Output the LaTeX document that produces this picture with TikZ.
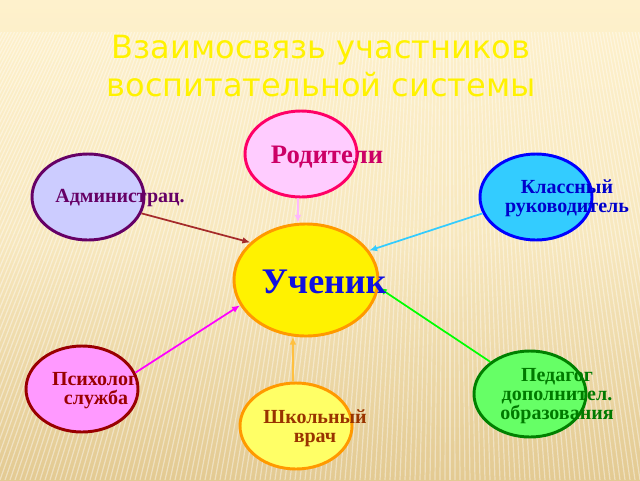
\documentclass[tikz,border=0pt]{standalone}
\usepackage{fontspec}
\newfontfamily\titlefont{DejaVu Sans}
\newfontfamily\nodefont{Liberation Serif}
\usetikzlibrary{shapes.geometric,arrows.meta}
\definecolor{bgtop}{HTML}{FEF1CC}
\definecolor{bgbot}{HTML}{E3CA92}
\definecolor{rodfill}{HTML}{FFCCFF}
\definecolor{rodline}{HTML}{FF0066}
\definecolor{rodtext}{HTML}{CC0066}
\definecolor{admfill}{HTML}{CCCCFF}
\definecolor{admline}{HTML}{660066}
\definecolor{klfill}{HTML}{33CCFF}
\definecolor{klline}{HTML}{0000FF}
\definecolor{kltext}{HTML}{0000CC}
\definecolor{uchline}{HTML}{FF9900}
\definecolor{uchtext}{HTML}{1010E0}
\definecolor{psyfill}{HTML}{FF99FF}
\definecolor{psyline}{HTML}{990000}
\definecolor{shkfill}{HTML}{FFFF66}
\definecolor{shktext}{HTML}{993300}
\definecolor{pedfill}{HTML}{66FF66}
\definecolor{pedline}{HTML}{008000}
\definecolor{pedtext}{HTML}{007A00}
\definecolor{arrrod}{HTML}{FFB8FF}
\definecolor{arradm}{HTML}{A52A2A}
\definecolor{arrshk}{HTML}{FFC040}
\definecolor{arrmag}{HTML}{FF00FF}
\tikzset{
  oval/.style={ellipse, draw, line width=2.2pt, minimum width=84pt, minimum height=64.5pt, inner sep=0pt},
  lbl/.style={font=\nodefont\bfseries\fontsize{15}{14.3}\selectfont, align=center, inner sep=0pt},
  conn/.style={line width=1.3pt, -{Latex[length=6pt,width=5pt]}},
}
\begin{document}
\begin{tikzpicture}[x=0.75pt,y=-0.75pt]
\useasboundingbox (0,0) rectangle (640,480);
\shade[top color=bgtop, bottom color=bgbot, middle color=bgtop!75!bgbot] (0,0) rectangle (640,480);
\begin{scope}
\clip (0,32) rectangle (640,480);
\foreach \i in {-700,-695,...,1300} {
  \draw[white, opacity=0.4, line width=0.9pt] (\i,480) -- (450,-800);
}
\end{scope}
% title
\node[font=\titlefont\fontsize{24}{28.5}\selectfont, text=yellow, align=center] (title) at (321,66) {Взаимосвязь участников\\воспитательной системы};
% ellipses
\node[oval, fill=rodfill, draw=rodline] (rod) at (301,154) {};
\node[oval, fill=admfill, draw=admline] (adm) at (88,197) {};
\node[oval, fill=klfill, draw=klline] (kl) at (536,197) {};
\node[oval, fill=yellow, draw=uchline, minimum width=108pt, minimum height=84pt] (uch) at (306,280) {};
\node[oval, fill=psyfill, draw=psyline] (psy) at (82,389) {};
\node[oval, fill=shkfill, draw=uchline] (shk) at (296,426) {};
\node[oval, fill=pedfill, draw=pedline] (ped) at (530,394) {};
% connectors
\draw[conn, arrrod] (rod.-94) -- (uch.98);
\draw[conn, arradm] (adm.-17) -- (uch.146);
\draw[conn, klfill] (kl.197) -- (uch.25);
\draw[conn, green] (ped.141) -- (uch.-6);
\draw[conn, arrmag] (psy.17) -- (uch.201);
\draw[conn, arrshk] (shk.94) -- (uch.-103);
% labels
\node[lbl, text=rodtext, font=\nodefont\bfseries\fontsize{20}{20}\selectfont] (rodl) at (327,157) {Родители};
\node[lbl, text=admline] (adml) at (120,198) {Администрац.};
\node[lbl, text=kltext] (kll) at (567,198) {Классный\\руководитель};
\node[lbl, text=uchtext, font=\nodefont\bfseries\fontsize{27}{27}\selectfont] (uchl) at (324,282) {Ученик};
\node[lbl, text=psyline] (psyl) at (96,391) {Психолог.\\служба};
\node[lbl, text=shktext] (shkl) at (315,428) {Школьный\\врач};
\node[lbl, text=pedtext] (pedl) at (557,396) {Педагог\\дополнител.\\образования};
\end{tikzpicture}
\end{document}
